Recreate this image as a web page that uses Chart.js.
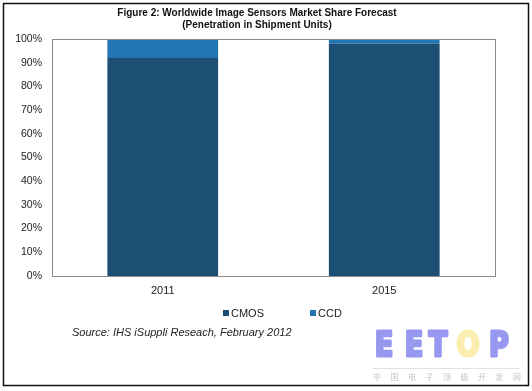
<!DOCTYPE html>
<html>
<head>
<meta charset="utf-8">
<script src="https://cdn.jsdelivr.net/npm/chart.js@4"></script>
<style>
  body { margin: 0; background: #fff; }
</style>
</head>
<body>
<canvas id="shareChart" width="532" height="391"></canvas>
<script>
const years = ['2011', '2015'];
const cmosShare = [92, 98];
const ccdShare = [8, 2];
const yTicks = [0, 10, 20, 30, 40, 50, 60, 70, 80, 90, 100];
const titleLines = ['Figure 2: Worldwide Image Sensors Market Share Forecast', '(Penetration in Shipment Units)'];
const sourceNote = 'Source: IHS iSuppli Reseach, February 2012';

const cmosColor = '#1d4f74';
const ccdColor = '#2277b3';

// frame, plot border, title, legend, source and watermark
const decorations = {
    id: 'decorations',
    afterDraw(chart) {
        const ctx = chart.ctx;
        const area = chart.chartArea;
        ctx.save();

        ctx.strokeStyle = '#111';
        ctx.lineWidth = 1.5;
        ctx.strokeRect(3.5, 3.5, 525, 382);

        ctx.strokeStyle = '#8a8a8a';
        ctx.lineWidth = 1;
        ctx.strokeRect(Math.round(area.left) + 0.5, Math.round(area.top) + 0.5,
            Math.round(area.right - area.left), Math.round(area.bottom - area.top));

        ctx.fillStyle = '#111';
        ctx.textAlign = 'center';
        ctx.textBaseline = 'middle';
        ctx.font = 'bold 10px "Liberation Sans", Arial';
        ctx.fillText(titleLines[0], 257, 13.5);
        ctx.fillText(titleLines[1], 257, 25.5);

        // legend
        ctx.font = '11px "Liberation Sans", Arial';
        ctx.textAlign = 'left';
        ctx.fillStyle = cmosColor;
        ctx.fillRect(223, 310, 6, 6);
        ctx.fillStyle = '#222';
        ctx.fillText('CMOS', 231, 313.5);
        ctx.fillStyle = ccdColor;
        ctx.fillRect(310, 310, 6, 6);
        ctx.fillStyle = '#222';
        ctx.fillText('CCD', 318, 313.5);

        ctx.font = 'italic 11px "Liberation Sans", Arial';
        ctx.fillText(sourceNote, 72, 333);

        // EETOP watermark
        ctx.font = 'bold 34px "DejaVu Sans"';
        ctx.textAlign = 'center';
        ctx.textBaseline = 'alphabetic';
        ctx.lineJoin = 'round';
        const letters = ['E', 'E', 'T', 'O', 'P'];
        const xs = [384, 414, 438, 468, 499];
        letters.forEach((l, i) => {
            ctx.save();
            ctx.translate(xs[i], 356);
            ctx.scale(0.8, 1);
            const c = l === 'O' ? '#faefb0' : '#9798ef';
            ctx.fillStyle = c;
            ctx.strokeStyle = c;
            ctx.lineWidth = 3;
            ctx.fillText(l, 0, 0);
            ctx.strokeText(l, 0, 0);
            ctx.restore();
        });
        ctx.strokeStyle = '#e2e2e2';
        ctx.lineWidth = 1;
        ctx.beginPath();
        ctx.moveTo(373, 368.5);
        ctx.lineTo(519, 368.5);
        ctx.stroke();
        ctx.font = '8px "Noto Sans CJK SC"';
        ctx.fillStyle = '#c4c4c4';
        const cn = '中国电子顶级开发网';
        for (let i = 0; i < cn.length; i++) {
            ctx.fillText(cn[i], 377 + i * 17.5, 380);
        }
        ctx.restore();
    }
};

new Chart(document.getElementById('shareChart'), {
    type: 'bar',
    data: {
        labels: years,
        datasets: [{
            label: 'CMOS',
            data: cmosShare,
            backgroundColor: cmosColor
        }, {
            label: 'CCD',
            data: ccdShare,
            backgroundColor: ccdColor
        }]
    },
    options: {
        responsive: false,
        animation: false,
        events: [],
        layout: {
            padding: { left: 6, right: 37, top: 39, bottom: 95 }
        },
        plugins: {
            legend: { display: false },
            title: { display: false },
            tooltip: { enabled: false }
        },
        datasets: {
            bar: { barPercentage: 1, categoryPercentage: 0.5 }
        },
        scales: {
            x: {
                stacked: true,
                grid: { display: false, drawTicks: false },
                border: { display: false },
                ticks: { color: '#222', font: { size: 11, family: '"Liberation Sans", Arial' }, padding: 8 },
                afterFit: s => { s.height = 20; }
            },
            y: {
                stacked: true,
                min: 0,
                max: 100,
                grid: { display: false, drawTicks: false },
                border: { display: false },
                afterBuildTicks: s => { s.ticks = yTicks.map(v => ({ value: v })); },
                ticks: {
                    color: '#222',
                    font: { size: 10.5, family: '"Liberation Sans", Arial' },
                    padding: 10,
                    callback: v => v + '%'
                },
                afterFit: s => { s.width = 46; }
            }
        }
    },
    plugins: [decorations]
});
</script>
</body>
</html>
